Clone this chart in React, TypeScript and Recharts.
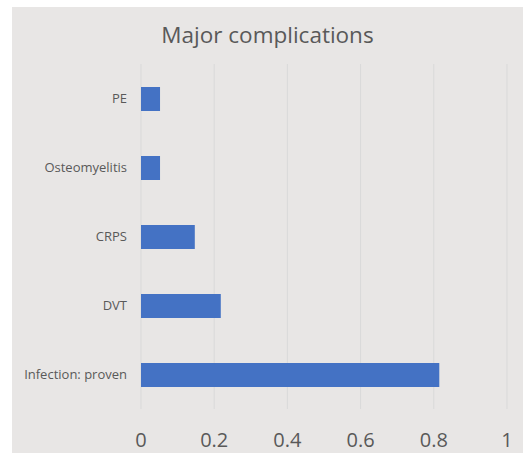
import { Bar, BarChart, CartesianGrid, XAxis, YAxis } from "recharts"

const categories = ["PE", "Osteomyelitis", "CRPS", "DVT", "Infection: proven"]
const values = [0.052, 0.052, 0.147, 0.218, 0.815]
const xTicks = [0, 0.2, 0.4, 0.6, 0.8, 1]

const data = categories.map((name, i) => ({ name, value: values[i] }))

const font = "'Open Sans', 'Liberation Sans', sans-serif"

export default function App() {
  return (
    <div style={{ position: "absolute", left: 0, top: 0, width: 523, height: 453, background: "#fff", overflow: "hidden" }}>
      <div style={{ position: "absolute", left: 12, top: 7, width: 511, height: 446, background: "#e8e6e5" }} />
      <div
        style={{
          position: "absolute",
          left: 12,
          top: 19,
          width: 511,
          textAlign: "center",
          fontFamily: font,
          fontSize: 22.5,
          color: "#595959",
        }}
      >
        Major complications
      </div>
      <div style={{ position: "absolute", left: 0, top: 0 }}>
        <BarChart
          width={523}
          height={453}
          data={data}
          layout="vertical"
          margin={{ top: 64, right: 16, bottom: 0, left: 0 }}
          barCategoryGap={22}
        >
          <CartesianGrid horizontal={false} stroke="#d9d9d9" />
          <XAxis
            type="number"
            domain={[0, 1]}
            ticks={xTicks}
            axisLine={false}
            tickLine={false}
            tickSize={0}
            tickMargin={24}
            height={44}
            tick={{ fill: "#595959", fontSize: 20, fontFamily: font }}
          />
          <YAxis
            type="category"
            dataKey="name"
            width={141}
            axisLine={false}
            tickLine={false}
            tickSize={0}
            tickMargin={14}
            tick={{ fill: "#595959", fontSize: 13, fontFamily: font }}
          />
          <Bar dataKey="value" fill="#4472c4" barSize={24} isAnimationActive={false} />
        </BarChart>
      </div>
    </div>
  )
}
